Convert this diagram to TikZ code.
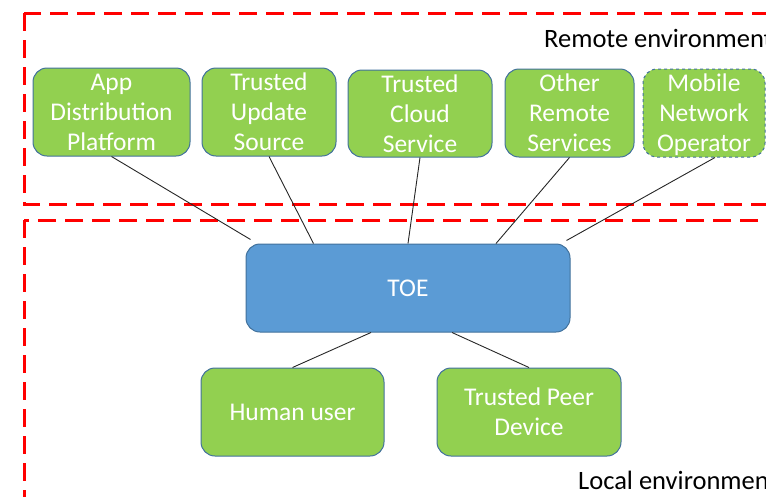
\documentclass[tikz,border=0pt]{standalone}
\usepackage{fontspec}
\setmainfont{Carlito}
\usetikzlibrary{positioning,calc}
\definecolor{boxgreen}{HTML}{92D050}
\definecolor{boxblue}{HTML}{5B9BD5}
\definecolor{boxedge}{HTML}{41719C}
\definecolor{envred}{HTML}{FF0000}

\begin{document}
\begin{tikzpicture}[x=1pt, y=-1pt,
        block/.style={draw=boxedge, line width=1pt, fill=boxgreen, rounded corners=14pt,
            text=white, align=center, inner sep=0pt, font=\fontsize{25.5}{30}\selectfont},
        toebox/.style={block, fill=boxblue},
        envline/.style={draw=envred, line width=3pt, dash pattern=on 18pt off 9pt},
        envlabel/.style={anchor=base west, inner sep=0pt, font=\fontsize{26.5}{30}\selectfont},
        link/.style={draw=black!85, line width=0.9pt}
    ]
        \useasboundingbox (0,0) rectangle (766,496);
        \clip (0,0) rectangle (766,496);

        % Environments
        \draw [envline] (24,13) rectangle (800,204);
        \draw [envline] (24,220) rectangle (800,540);
        \node [envlabel] (remotelabel) at (544,47) {Remote environment};
        \node [envlabel] (locallabel) at (578,489) {Local environment};

        % Remote entities
        \node [block, minimum width=157pt, minimum height=88pt] (app) at (111.5,112) {App\\Distribution\\Platform};
        \node [block, minimum width=134pt, minimum height=88pt] (upd) at (269,112) {Trusted\\Update\\Source};
        \node [block, minimum width=144pt, minimum height=87pt] (cloud) at (420,113.5) {Trusted\\Cloud\\Service};
        \node [block, minimum width=129pt, minimum height=88pt] (other) at (569.5,113) {Other\\Remote\\Services};
        \node [block, dashed, minimum width=122pt, minimum height=88pt, text depth=0pt] (mno) at (704,113) {Mobile\\Network\\Operator};

        % TOE and local entities
        \node [toebox, minimum width=324pt, minimum height=88pt] (toe) at (408,288) {TOE};
        \node [block, minimum width=183pt, minimum height=88pt] (human) at (292.5,412) {Human user};
        \node [block, minimum width=184pt, minimum height=88pt] (peer) at (529,412) {Trusted Peer\\Device};

        % Connections
        \draw [link] (app.south) -- ([xshift=5pt, yshift=4pt]toe.north west);
        \draw [link] (upd.south) -- ([xshift=68pt]toe.north west);
        \draw [link] (cloud.south) -- (toe.north);
        \draw [link] (other.south) -- ([xshift=88pt]toe.north);
        \draw [link] ([xshift=11pt]mno.south) -- ([xshift=-4pt, yshift=3pt]toe.north east);
        \draw [link] ([xshift=-37pt]toe.south) -- (human.north);
        \draw [link] ([xshift=44pt]toe.south) -- (peer.north);
    \end{tikzpicture}
\end{document}
